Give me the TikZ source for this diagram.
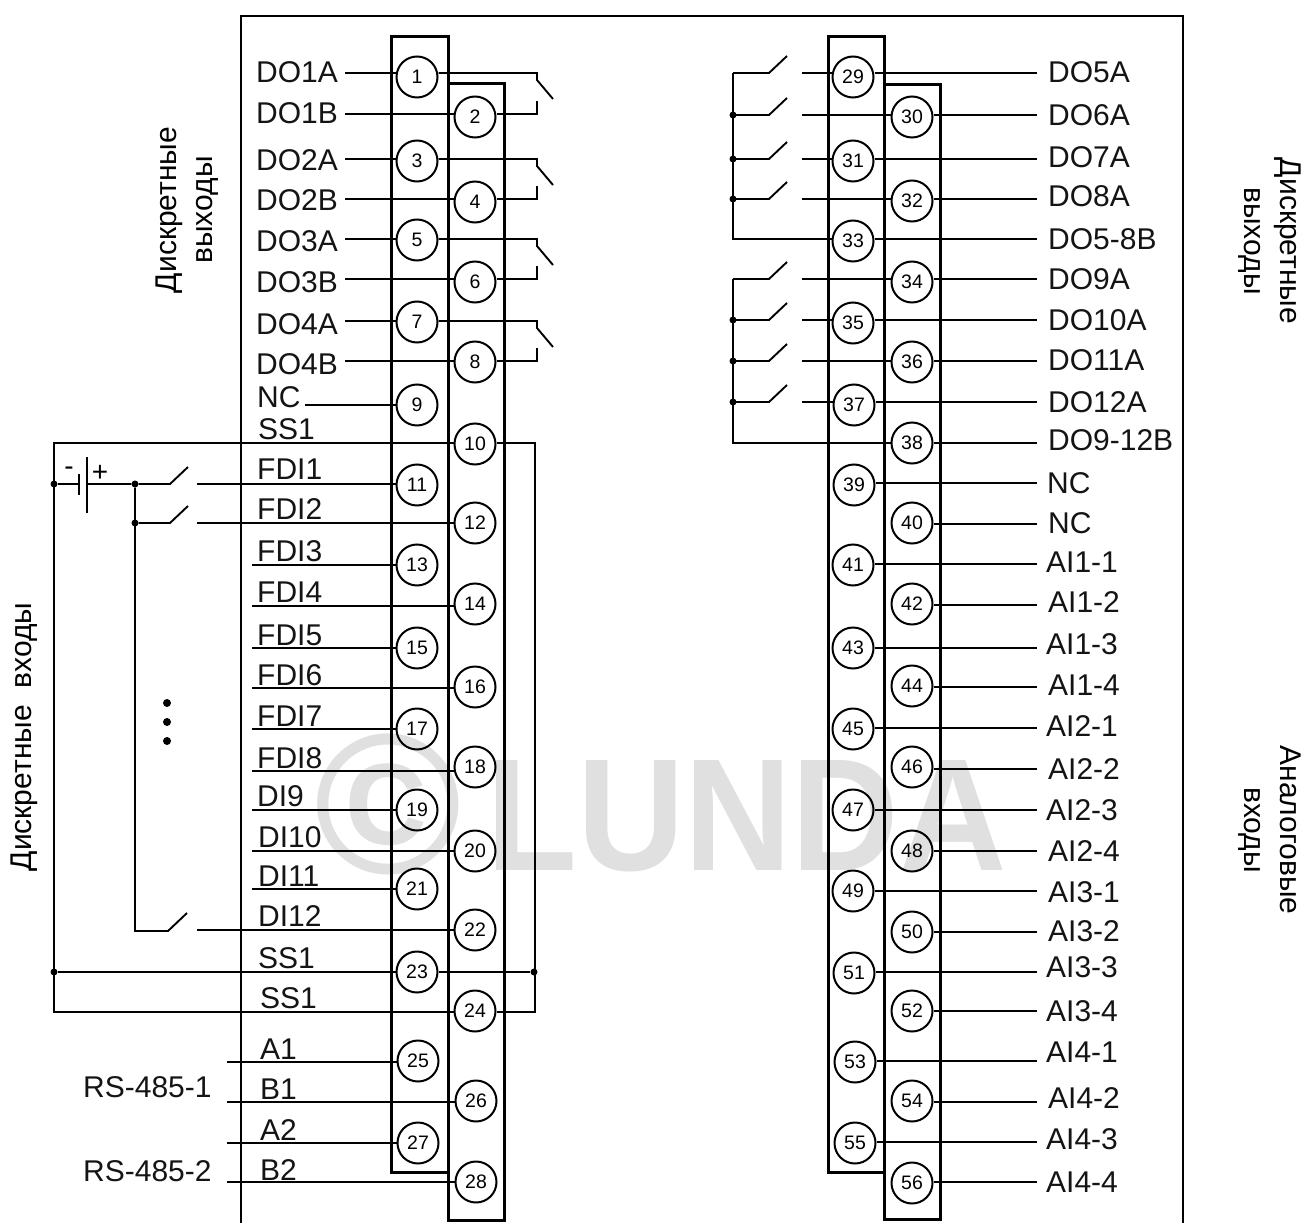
\documentclass[tikz,border=0pt]{standalone}
\usepackage{fontspec}
\setmainfont{Liberation Sans}
\tikzset{
  lay/.style={x=1pt,y=-1pt},
  wire/.style={line width=1.9pt,line cap=butt,line join=miter},
  stripbox/.style={draw,line width=3pt},
  framebox/.style={line width=2.2pt},
  term/.style={circle,draw,line width=2pt,minimum size=41pt,inner sep=0pt,font=\fontsize{19.5}{19.5}\selectfont},
  lbl/.style={anchor=base west,inner sep=0pt,font=\fontsize{30}{30}\selectfont,text=black!92},
  vlbl/.style={inner sep=0pt,align=center,font=\fontsize{30}{36}\selectfont},
  jdot/.style={circle,fill,inner sep=0pt,minimum size=7pt},
  bigdot/.style={circle,fill,inner sep=0pt,minimum size=8pt},
  polarity/.style={inner sep=0pt,font=\fontsize{28}{28}\selectfont},
  wmark/.style={inner sep=0pt,text=black!12},
}
\begin{document}
\begin{tikzpicture}[lay]
\useasboundingbox (0,0) rectangle (1302,1223);
% watermark
\node[wmark,font=\bfseries\fontsize{200}{200}\selectfont] (wmc) at (388,804) {©};
\node[wmark,anchor=base west,xscale=0.93,font=\bfseries\fontsize{160}{160}\selectfont] (wm) at (486,870) {LUNDA};
% frame and strips
\draw[framebox] (241,1230) -- (241,16) -- (1183,16) -- (1183,1230);
\node[stripbox,minimum width=57pt,minimum height=1135pt,inner sep=0pt] (s1) at (419.5,604.5) {};
\node[stripbox,minimum width=56pt,minimum height=1136pt,inner sep=0pt] (s2) at (476,652) {};
\node[stripbox,minimum width=56pt,minimum height=1135pt,inner sep=0pt] (s3) at (856,604.5) {};
\node[stripbox,minimum width=56pt,minimum height=1134pt,inner sep=0pt] (s4) at (912,652) {};
% terminals
\foreach \n/\cx/\cy in {1/417/77,3/417/161,5/417/240,7/417/322,9/417/405,11/417/485,13/417/565,15/417/648,17/417/729,19/417/810,21/417/889,23/417/972,25/418/1061,27/418/1143,
 2/475/117,4/475/202,6/475/282,8/475/362,10/475/444,12/475/523,14/475/604,16/475/687,18/475/767,20/475/851,22/475/930,24/475/1011,26/476/1101,28/476/1182,
 29/853/77,31/853/161,33/853/241,35/853/323,37/854/405,39/854/485,41/853/565,43/853/648,45/853/729,47/853/810,49/853/891,51/854/973,53/855/1062,55/855/1143,
 30/912/117,32/912/201,34/912/282,36/912/362,38/912/443,40/912/523,42/912/604,44/912/686,46/912/767,48/912/851,50/912/932,52/912/1011,54/912/1101,56/912/1183}
  \node[term] (t\n) at (\cx,\cy) {\n};
% left side labels and wires
\foreach \n/\wx/\wy/\lx/\by/\txt in {1/345/73/256/82/DO1A,2/345/114/256/124/DO1B,3/345/159/256/170/DO2A,4/345/199/256/210/DO2B,5/345/239/256/251/DO3A,6/345/279/256/292/DO3B,7/345/321/256/334/DO4A,8/345/361/256/374/DO4B,
 9/305/405/257/407/NC,11/197/484/257/479/FDI1,12/197/523/257/519/FDI2,13/252/565/257/561/FDI3,14/252/606/257/602/FDI4,15/252/648/257/645/FDI5,16/252/688/257/685/FDI6,17/252/729/257/726/FDI7,18/252/771/257/768/FDI8,19/252/810/257/806/DI9,20/252/851/258/847/DI10,21/252/889/258/886/DI11,22/197/930/258/926/DI12,
 25/227/1062/260/1059/A1,26/227/1102/260/1099/B1,27/227/1143/260/1140/A2,28/227/1182/260/1180/B2}
{
  \node[lbl] (ll\n) at (\lx,\by) {\txt};
  \coordinate (lw\n) at (\wx,\wy);
  \draw[wire] (lw\n) -- (lw\n -| t\n.west);
}
\node[lbl] (ss10) at (258,439) {SS1};
\node[lbl] (ss23) at (258,968) {SS1};
\node[lbl] (ss24) at (260,1008) {SS1};
\node[lbl] (rs1) at (83,1097) {RS-485-1};
\node[lbl] (rs2) at (83,1181) {RS-485-2};
% relay contacts left
\foreach \a/\b/\ya/\yb in {1/2/73/114,3/4/159/199,5/6/239/279,7/8/321/361}
{
  \coordinate (swa\a) at (537,\ya);
  \coordinate (swb\b) at (537,\yb);
  \draw[wire] (swa\a -| t\a.east) -- (swa\a) -- ++(0,7) -- ++(16,19);
  \draw[wire] (swb\b -| t\b.east) -- (swb\b) -- ++(0,-13);
}
% SS1 loop
\coordinate (lt) at (54,443);
\coordinate (lb) at (54,1012);
\coordinate (rt) at (535,443);
\coordinate (rb) at (535,1012);
\node[jdot] (dl) at (54,972) {};
\node[jdot] (dr) at (534,972) {};
\node[jdot] (db) at (54,484) {};
\draw[wire] (t10.west |- lt) -- (lt) -- (lb) -- (lb -| t24.west);
\draw[wire] (t10.east |- rt) -- (rt) -- (rb) -- (rb -| t24.east);
\draw[wire] (dl) -- (dl -| t23.west);
\draw[wire] (dr) -- (dr -| t23.east);
% battery
\coordinate (pn) at (79,484);
\coordinate (pp) at (87,484);
\draw[wire] (db) -- (pn);
\draw[wire] (79,474) -- (79,495);
\draw[wire] (87,457) -- (87,513);
\node[polarity] (minus) at (69,471) {-};
\node[polarity] (plus) at (100,473) {+};
% input switches
\node[jdot] (j1) at (135,484) {};
\node[jdot] (j2) at (135,523) {};
\coordinate (jb) at (135,931);
\draw[wire] (pp) -- (j1) -- ++(35,0) -- ++(18,-17);
\draw[wire] (j2) -- ++(35,0) -- ++(18,-17);
\draw[wire] (j1) -- (jb) -- ++(33,0) -- ++(19,-18);
\node[bigdot] (v1) at (167,703) {};
\node[bigdot] (v2) at (167,722) {};
\node[bigdot] (v3) at (167,741) {};
% right side labels and wires
\foreach \n/\wy/\lx/\cyy/\txt in {29/73/1048/73/DO5A,30/115/1048/115/DO6A,31/159/1048/157/DO7A,32/199/1048/196/DO8A,33/239/1048/239/DO5-8B,34/279/1048/279/DO9A,35/320/1048/320/DO10A,36/361/1048/360/DO11A,37/402/1048/402/DO12A,38/443/1048/440/DO9-12B,39/483/1047/483/NC,40/524/1048/523/NC,41/564/1046/562/AI1-1,42/605/1048/602/AI1-2,43/648/1046/644/AI1-3,44/687/1048/685/AI1-4,45/728/1046/726/AI2-1,46/769/1048/769/AI2-2,47/810/1046/810/AI2-3,48/851/1048/851/AI2-4,49/891/1048/892/AI3-1,50/932/1048/931/AI3-2,51/972/1046/967/AI3-3,52/1011/1046/1011/AI3-4,53/1061/1046/1052/AI4-1,54/1102/1048/1098/AI4-2,55/1142/1046/1139/AI4-3,56/1182/1046/1182/AI4-4}
{
  \node[lbl] (rl\n) at (\lx,\cyy+10) {\txt};
  \coordinate (rw\n) at (1037,\wy);
  \draw[wire] (rw\n -| t\n.east) -- (rw\n);
}
% output buses right
\coordinate (bA1) at (733,73);
\coordinate (bA2) at (733,239);
\coordinate (bB1) at (733,279);
\coordinate (bB2) at (733,443);
\draw[wire] (bA1) -- (bA2) -- (bA2 -| t33.west);
\draw[wire] (bB1) -- (bB2) -- (bB2 -| t38.west);
\foreach \n/\y in {29/73,30/115,31/159,32/199,34/279,35/320,36/361,37/402}
{
  \coordinate (rb\n) at (733,\y);
  \coordinate (rc\n) at (802,\y);
  \draw[wire] (rb\n) -- ++(36,0) -- ++(18,-17);
  \draw[wire] (rc\n) -- (rc\n -| t\n.west);
}
\foreach \n/\y in {30/115,31/159,32/199,35/320,36/361,37/402}
  \node[jdot] (jr\n) at (733,\y) {};
% rotated captions
\node[vlbl,rotate=90] (c1) at (187,210) {Дискретные\\выходы};
\node[vlbl,rotate=90] (c2) at (24,737) {Дискретные\ \ входы};
\node[vlbl,rotate=-90] (c3) at (1270,241) {Дискретные\\выходы};
\node[vlbl,rotate=-90] (c4) at (1270,830) {Аналоговые\\входы};
\end{tikzpicture}
\end{document}
